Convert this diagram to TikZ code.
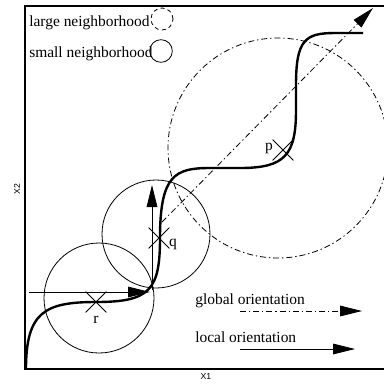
\documentclass[tikz,border=0pt]{standalone}
\usepackage{fontspec}
\setmainfont{Liberation Serif}
\newfontfamily\axisfont{Liberation Sans}
\usetikzlibrary{arrows.meta,shapes.misc,positioning}

\begin{document}
\begin{tikzpicture}[x=0.75pt,y=-0.75pt,
		bigtip/.style={-{Triangle[length=16.5pt,width=8pt]}},
		dashdot/.style={dash pattern=on 4.5pt off 2.2pt on 1pt off 2.2pt},
		crossmark/.style={cross out,draw,line width=0.6pt,minimum size=15pt,inner sep=0pt},
		legendtext/.style={font=\fontsize{11.6}{13}\selectfont,inner sep=0pt,anchor=base west},
		pointlabel/.style={font=\fontsize{11.6}{13}\selectfont,inner sep=0pt},
		axislabel/.style={font=\axisfont\fontsize{6.5}{7.5}\selectfont,inner sep=0pt}]
			% picture size
			\useasboundingbox (0,0) rectangle (384,383);
			% frame (open on the right)
			\draw[line width=1.5pt] (384,6) -- (25,6) -- (25,369) -- (384,369);
			% axis labels
			\node[axislabel] (xone) at (206,377) {X1};
			\node[axislabel,rotate=90] (xtwo) at (17,189) {X2};
			% legend for the neighborhoods
			\node[legendtext] (largetxt) at (29,26) {large neighborhood};
			\node[draw,circle,dashed,dash pattern=on 3pt off 2.5pt,line width=0.6pt,minimum size=16.5pt,inner sep=0pt] (largecirc) at (162,19) {};
			\node[legendtext] (smalltxt) at (29,57) {small neighborhood};
			\node[draw,circle,line width=0.6pt,minimum size=17pt,inner sep=0pt] (smallcirc) at (161,51) {};
			% neighborhoods
			\draw[line width=0.6pt] (99,298) circle (55);
			\draw[line width=0.6pt] (156,234) circle (54);
			\draw[line width=0.6pt,dashdot] (278,148) circle (110);
			% the path
			\draw[line width=1.8pt] (26,369) .. controls (26,312) and (45,302) .. (96,302)
				.. controls (150,302) and (160,290) .. (160,238)
				.. controls (160,175) and (175,168) .. (210,168) -- (240,168)
				.. controls (285,168) and (296,155) .. (296,110) -- (296,85)
				.. controls (296,40) and (305,33) .. (335,33) -- (363,33);
			% points on the path
			\node[crossmark] (r) at (96,302) {};
			\node[crossmark] (q) at (159,238) {};
			\node[crossmark] (p) at (283,150) {};
			\node[pointlabel] (rlab) at (96,320) {r};
			\node[pointlabel] (qlab) at (173,244) {q};
			\node[pointlabel] (plab) at (269,148) {p};
			% local orientation at r and q
			\coordinate (hstart) at (29,292);
			\coordinate (hend) at (150,292);
			\coordinate (vstart) at (152,290);
			\coordinate (vend) at (152,185);
			\draw[bigtip,line width=0.6pt] (hstart) -- (hend);
			\draw[bigtip,line width=0.6pt] (vstart) -- (vend);
			% global orientation
			\coordinate (gstart) at (162,222);
			\coordinate (gend) at (373,8);
			\draw[bigtip,dashdot,line width=0.6pt] (gstart) -- (gend);
			% legend for the orientations
			\node[legendtext] (globaltxt) at (195,304) {global orientation};
			\coordinate (glstart) at (240,311);
			\coordinate (glend) at (362,311);
			\draw[bigtip,dashdot,line width=0.6pt] (glstart) -- (glend);
			\node[legendtext] (localtxt) at (195,342) {local orientation};
			\coordinate (llstart) at (240,349);
			\coordinate (llend) at (355,349);
			\draw[bigtip,line width=0.6pt] (llstart) -- (llend);
		\end{tikzpicture}
\end{document}
